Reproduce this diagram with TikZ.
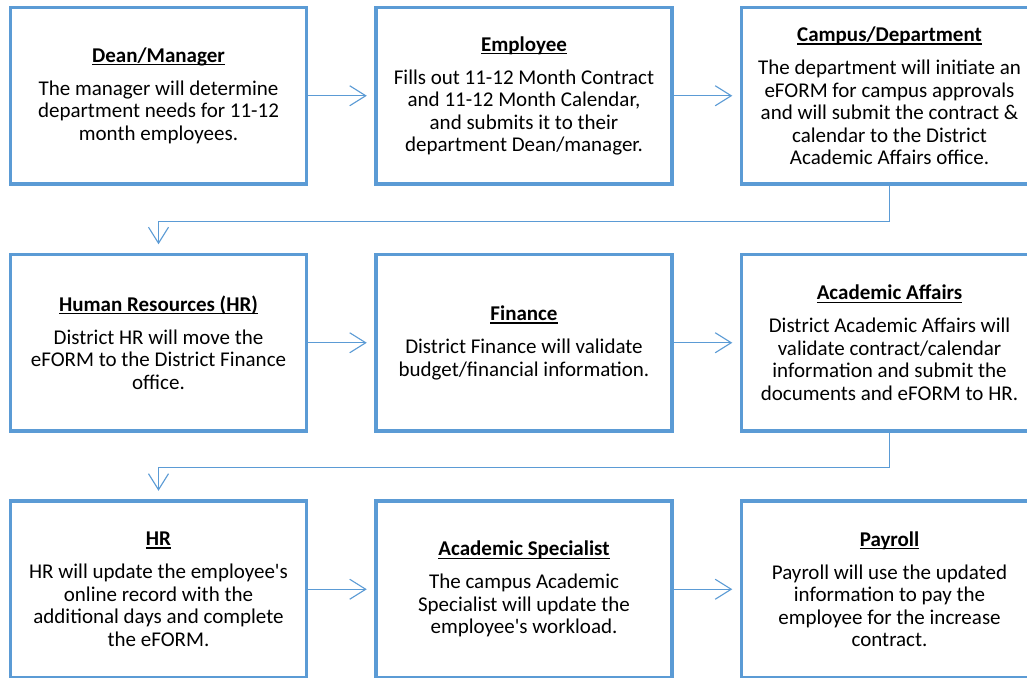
\documentclass[tikz,border=0pt]{standalone}
\usepackage{fontspec}
\setmainfont{Carlito}[Ligatures=TeXOff]
\usetikzlibrary{arrows.meta}
\definecolor{accent}{HTML}{5B9BD5}
% bold heading with an underline at a fixed depth below the baseline
\newcommand\boxhead[1]{\setbox0\hbox{\bfseries #1}\rlap{\rule[-3pt]{\wd0}{1.3pt}}\box0\\[10.5pt]}
\tikzset{
  stepbox/.style={draw=accent, line width=3.5pt, fill=white,
    minimum width=296pt, minimum height=176.5pt, inner sep=0pt,
    align=center, text=black, font=\fontsize{21}{22.5}\selectfont},
  flow/.style={draw=accent, line width=1.2pt,
    -{Straight Barb[length=16pt,width=20pt,line width=1.1pt]}},
  flowh/.style={flow, shorten >=7.5pt},
  flowv/.style={flow, shorten >=8.5pt},
}
\begin{document}
\begin{tikzpicture}[x=1pt,y=-1pt]
\clip (0,0) rectangle (1027,677);
\fill[white] (0,0) rectangle (1027,677);

% first row
\node[stepbox] (dean) at (158.5,95.75) {\boxhead{Dean/Manager}The manager will determine\\department needs for 11-12\\month employees.};
\node[stepbox] (emp) at (524,95.75) {\boxhead{Employee}Fills out 11-12 Month Contract\\and 11-12 Month Calendar,\\and submits it to their\\department Dean/manager.};
\node[stepbox] (campus) at (889.5,95.75) {\boxhead{Campus/Department}The department will initiate an\\eFORM for campus approvals\\and will submit the contract \&\\calendar to the District\\Academic Affairs office.};

% second row
\node[stepbox] (hr1) at (158.5,342.75) {\boxhead{Human Resources (HR)}District HR will move the\\eFORM to the District Finance\\office.};
\node[stepbox] (fin) at (524,342.75) {\boxhead{Finance}District Finance will validate\\budget/financial information.};
\node[stepbox] (aa) at (889.5,342.75) {\boxhead{Academic Affairs}District Academic Affairs will\\validate contract/calendar\\information and submit the\\documents and eFORM to HR.};

% third row
\node[stepbox] (hr2) at (158.5,589.25) {\boxhead{HR}HR will update the employee's\\online record with the\\additional days and complete\\the eFORM.};
\node[stepbox] (spec) at (524,589.25) {\boxhead{Academic Specialist}The campus Academic\\Specialist will update the\\employee's workload.};
\node[stepbox] (pay) at (889.5,589.25) {\boxhead{Payroll}Payroll will use the updated\\information to pay the\\employee for the increase\\contract.};

% connectors within rows
\draw[flowh] (dean.east) -- (emp.west);
\draw[flowh] (emp.east) -- (campus.west);
\draw[flowh] (hr1.east) -- (fin.west);
\draw[flowh] (fin.east) -- (aa.west);
\draw[flowh] (hr2.east) -- (spec.west);
\draw[flowh] (spec.east) -- (pay.west);

% connectors between rows
\draw[flowv] (campus.south) -- ++(0,36) -| (hr1.north);
\draw[flowv] (aa.south) -- ++(0,35) -| (hr2.north);
\end{tikzpicture}
\end{document}
